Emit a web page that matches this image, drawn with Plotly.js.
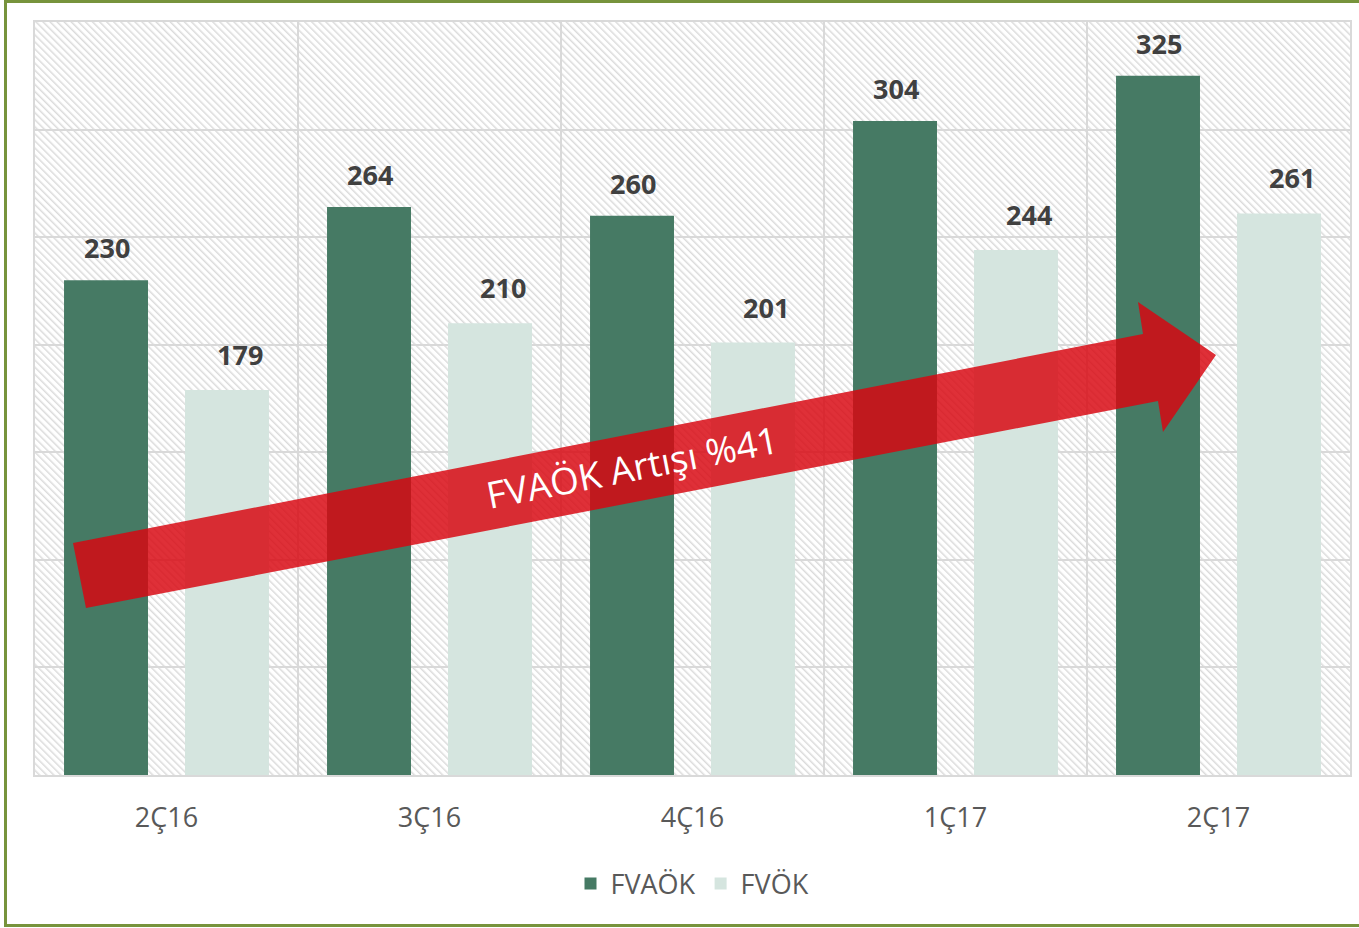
<!DOCTYPE html>
<html>
<head>
<meta charset="utf-8">
<script src="https://cdn.plot.ly/plotly-3.0.1.min.js"></script>
<style>
  html, body { margin: 0; padding: 0; background: #ffffff; }
  #wrap { position: relative; width: 1359px; height: 928px; overflow: hidden; }
  #chart { position: absolute; left: 0; top: 0; width: 1359px; height: 928px; }
  #frame { position: absolute; left: 4px; top: 0; width: 1420px; height: 927px; box-sizing: border-box;
           border-top: 3px solid #77933C; border-left: 3px solid #77933C; border-bottom: 3px solid #77933C;
           pointer-events: none; }
</style>
</head>
<body>
<div id="wrap">
  <div id="chart"></div>
  <div id="frame"></div>
</div>
<script>
// ---- data ----
const categories = ['2Ç16', '3Ç16', '4Ç16', '1Ç17', '2Ç17'];
const fvaok = [230, 264, 260, 304, 325];
const fvok = [179, 210, 201, 244, 261];
const seriesNames = ['FVAÖK', 'FVÖK'];
const arrowLabel = 'FVAÖK Artışı %41';

// ---- styling ----
const darkGreen = '#467A64';
const lightGreen = '#D5E5DF';
const gridColor = '#D9D9D9';
const W = 1359, H = 928;
const M = { l: 35, r: 9, t: 22, b: 153 };
const plotW = W - M.l - M.r, plotH = H - M.t - M.b;

// pixel -> paper helpers (for decorative overlay only)
const px = x => (x - M.l) / plotW;
const py = y => (H - M.b - y) / plotH;

// hatch background for plot area
const hatchSvg =
  '<svg xmlns="http://www.w3.org/2000/svg" width="' + plotW + '" height="' + plotH + '">' +
  '<defs><pattern id="h" width="5" height="5" patternUnits="userSpaceOnUse" patternTransform="rotate(-45)">' +
  '<rect x="0" y="0" width="1.5" height="5" fill="#DBDBDB"/></pattern></defs>' +
  '<rect width="100%" height="100%" fill="#ffffff"/>' +
  '<rect width="100%" height="100%" fill="url(#h)"/></svg>';
const hatchSrc = 'data:image/svg+xml;charset=utf-8,' + encodeURIComponent(hatchSvg);

const traces = [
  { type: 'bar', name: seriesNames[0], x: categories, y: fvaok,
    marker: { color: darkGreen }, hoverinfo: 'x+y+name' },
  { type: 'bar', name: seriesNames[1], x: categories, y: fvok,
    marker: { color: lightGreen }, hoverinfo: 'x+y+name' }
];

const labelFont = { family: 'Open Sans, sans-serif', size: 27, color: '#404040', weight: 'bold' };
const annotations = [];
categories.forEach((c, i) => {
  annotations.push({ x: c, y: fvaok[i], xref: 'x', yref: 'y', text: '<b>' + fvaok[i] + '</b>',
    showarrow: false, xshift: -60, yshift: 12, yanchor: 'bottom', font: labelFont });
  annotations.push({ x: c, y: fvok[i], xref: 'x', yref: 'y', text: '<b>' + fvok[i] + '</b>',
    showarrow: false, xshift: 73, yshift: 15, yanchor: 'bottom', font: labelFont });
});
annotations.push({ x: px(632), y: py(467), xref: 'paper', yref: 'paper', text: arrowLabel,
  showarrow: false, textangle: -11, xanchor: 'center', yanchor: 'middle',
  font: { family: 'Open Sans, sans-serif', size: 37, color: '#ffffff' } });

// arrow outline (pixel points converted to paper)
const arrowPts = [[73, 543], [1143, 334], [1138, 302], [1216, 355], [1163, 432], [1158, 401], [86, 608]];
const arrowPath = 'M ' + arrowPts.map(p => px(p[0]).toFixed(5) + ',' + py(p[1]).toFixed(5)).join(' L ') + ' Z';

const layout = {
  width: W, height: H,
  margin: M,
  paper_bgcolor: '#ffffff',
  plot_bgcolor: '#ffffff',
  barmode: 'group',
  bargap: 0.08,
  bargroupgap: 0.306,
  font: { family: 'Open Sans, sans-serif', color: '#595959' },
  xaxis: {
    type: 'category',
    tickson: 'boundaries',
    showgrid: true, gridcolor: gridColor, gridwidth: 2,
    showline: true, linecolor: gridColor, linewidth: 2, mirror: true,
    ticks: '',
    ticklabelstandoff: 18,
    tickfont: { family: 'Open Sans, sans-serif', size: 27, color: '#595959' },
    fixedrange: true
  },
  yaxis: {
    range: [0, 350], dtick: 50, tick0: 0,
    showgrid: true, gridcolor: gridColor, gridwidth: 2,
    showline: true, linecolor: gridColor, linewidth: 2, mirror: true,
    zeroline: false,
    showticklabels: false,
    fixedrange: true
  },
  legend: {
    orientation: 'h', x: 0.5, xanchor: 'center', y: py(884), yanchor: 'middle',
    font: { family: 'Open Sans, sans-serif', size: 27, color: '#595959' },
    itemclick: false, itemdoubleclick: false
  },
  images: [{
    source: hatchSrc, xref: 'paper', yref: 'paper', x: 0, y: 1, sizex: 1, sizey: 1,
    xanchor: 'left', yanchor: 'top', sizing: 'stretch', layer: 'below'
  }],
  shapes: [{
    type: 'path', xref: 'paper', yref: 'paper', path: arrowPath,
    fillcolor: 'rgb(216,6,16)', opacity: 0.83, line: { width: 0 }, layer: 'above'
  }],
  annotations: annotations,
  showlegend: true
};

Plotly.newPlot('chart', traces, layout, { displayModeBar: false, staticPlot: false });
</script>
</body>
</html>
